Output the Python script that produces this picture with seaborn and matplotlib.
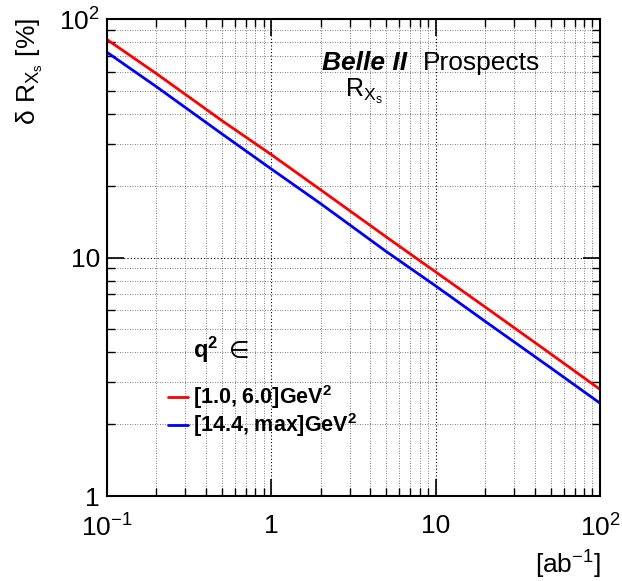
import numpy as np
import pandas as pd
import seaborn as sns
import matplotlib.pyplot as plt
from matplotlib.ticker import LogLocator, FixedLocator, FixedFormatter, NullFormatter

# values
lumi = [0.1, 0.2, 0.5, 1, 2, 5, 10, 20, 50, 100]
err_low_q2 = [82, 59, 37.5, 27, 19.2, 12.2, 8.7, 6.2, 3.95, 2.8]
err_high_q2 = [72.5, 52, 33, 23.5, 16.8, 10.6, 7.6, 5.4, 3.45, 2.45]
labels = [r'[1.0, 6.0]GeV$^{\mathbf{2}}$', r'[14.4, max]GeV$^{\mathbf{2}}$']
colors = ['#ff0000', '#0000ff']

df = pd.concat([
    pd.DataFrame({'lumi': lumi, 'err': err_low_q2, 'q2': labels[0]}),
    pd.DataFrame({'lumi': lumi, 'err': err_high_q2, 'q2': labels[1]}),
])

sns.set_style('ticks')
plt.rcParams['font.family'] = ['Liberation Sans', 'DejaVu Sans']
plt.rcParams['mathtext.fontset'] = 'custom'
plt.rcParams['mathtext.rm'] = 'Liberation Sans'
plt.rcParams['mathtext.bf'] = 'Liberation Sans:bold'
plt.rcParams['mathtext.it'] = 'Liberation Sans:italic'
plt.rcParams['text.color'] = 'black'
plt.rcParams['xtick.labelcolor'] = 'black'
plt.rcParams['ytick.labelcolor'] = 'black'

fig = plt.figure(figsize=(6.22, 5.81), dpi=100)
ax = fig.add_axes([107 / 622, 1 - 496 / 581, 493 / 622, 477 / 581])

sns.lineplot(data=df, x='lumi', y='err', hue='q2', palette=colors,
             linewidth=2, ax=ax, legend=False)

ax.set_xscale('log')
ax.set_yscale('log')
ax.set_xlim(0.1, 100)
ax.set_ylim(1, 100)

ax.xaxis.set_major_locator(FixedLocator([0.1, 1, 10, 100]))
ax.xaxis.set_major_formatter(FixedFormatter([r'10$^{-1}$', '1', '10', r'10$^{2}$']))
ax.yaxis.set_major_locator(FixedLocator([1, 10, 100]))
ax.yaxis.set_major_formatter(FixedFormatter(['1', '10', r'10$^{2}$']))
ax.xaxis.set_minor_locator(LogLocator(base=10, subs=np.arange(2, 10)))
ax.yaxis.set_minor_locator(LogLocator(base=10, subs=np.arange(2, 10)))
ax.xaxis.set_minor_formatter(NullFormatter())
ax.yaxis.set_minor_formatter(NullFormatter())

ax.tick_params(which='both', direction='in', top=True, right=True, color='black')
ax.tick_params(which='major', length=12, width=1.2, labelsize=19)
ax.tick_params(axis='x', which='major', pad=13)
ax.tick_params(axis='y', which='major', pad=5)
ax.tick_params(which='minor', length=6, width=1)
for s in ax.spines.values():
    s.set_linewidth(1.5)
    s.set_color('black')

ax.grid(which='major', linestyle=(0, (1, 2)), color='black', linewidth=0.8)
ax.grid(which='minor', linestyle=(0, (1, 2)), color='#555555', linewidth=0.6)

ax.set_xlabel('')
ax.set_ylabel('')
fig.text(30 / 622, 1 - 18 / 581, 'δ R$_{\\mathrm{X_s}}$ [%]', rotation=90,
         ha='center', va='top', fontsize=19)
fig.text(601 / 622, 1 - 565 / 581, r'[ab$^{\mathrm{-1}}$]', ha='right', va='center', fontsize=19)

ax.text(0.436, 0.908, 'Belle II', transform=ax.transAxes, fontsize=19,
        fontweight='bold', fontstyle='italic', ha='left', va='center')
ax.text(0.641, 0.908, 'Prospects', transform=ax.transAxes, fontsize=19,
        ha='left', va='center')
ax.text(0.483, 0.849, r'R$_{\mathrm{X_s}}$', transform=ax.transAxes, fontsize=18,
        ha='left', va='center')

# legend
ax.text(0.174, 0.306, r'$\mathbf{q}^{\mathbf{2}}$', transform=ax.transAxes,
        fontsize=17, fontweight='bold', ha='left', va='center')
ax.text(0.247, 0.303, '∈', transform=ax.transAxes, family='DejaVu Sans',
        fontsize=17, ha='left', va='center')
for i, (lab, c) in enumerate(zip(labels, colors)):
    yy = 0.208 - i * 0.06
    ax.plot([0.123, 0.165], [yy, yy], color=c, linewidth=2, transform=ax.transAxes)
    ax.text(0.174, yy, lab, transform=ax.transAxes, fontsize=15.5,
            fontweight='bold', ha='left', va='center')

fig.savefig('out.png', dpi=100)
